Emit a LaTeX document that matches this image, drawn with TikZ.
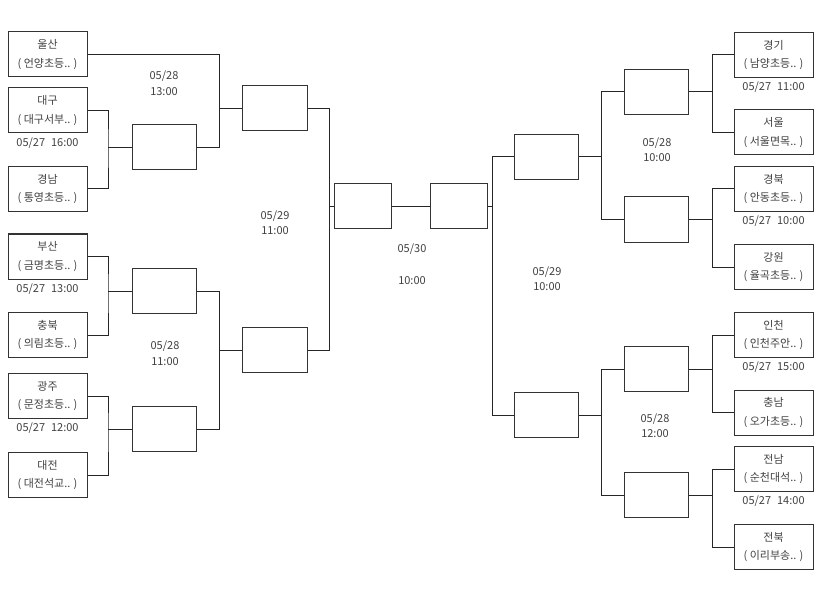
\documentclass[tikz,border=0pt]{standalone}
\usepackage{fontspec}
\setmainfont{Noto Sans CJK KR}
\usetikzlibrary{positioning}

\begin{document}
\begin{tikzpicture}[x=1pt, y=-1pt,
    team/.style={draw=black!80, line width=1pt, minimum width=79pt, minimum height=45pt,
        inner sep=0pt, align=center, text=black!75, font=\fontsize{11}{18.5}\selectfont},
    game/.style={draw=black!80, line width=1pt, minimum width=64pt, minimum height=45pt, inner sep=0pt},
    when/.style={text=black!75, align=center, inner sep=1pt, font=\fontsize{11}{15.5}\selectfont},
    link/.style={draw=black!85, line width=1pt}]
    \useasboundingbox (0,0) rectangle (820,599);

    % Left teams
    \node[team] (ulsan)     at (47.5, 54.5) {울산\\( 언양초등.. )};
    \node[team] (daegu)     at (47.5,110.5) {대구\\( 대구서부.. )};
    \node[team] (gyeongnam) at (47.5,189)   {경남\\( 통영초등.. )};
    \node[team] (busan)     at (47.5,256.5) {부산\\( 금명초등.. )};
    \node[team] (chungbuk)  at (47.5,335)   {충북\\( 의림초등.. )};
    \node[team] (gwangju)   at (47.5,396)   {광주\\( 문정초등.. )};
    \node[team] (daejeon)   at (47.5,475)   {대전\\( 대전석교.. )};

    % Right teams
    \node[team] (gyeonggi)  at (773.5, 55)   {경기\\( 남양초등.. )};
    \node[team] (seoul)     at (773.5,132.5) {서울\\( 서울면목.. )};
    \node[team] (gyeongbuk) at (773.5,189)   {경북\\( 안동초등.. )};
    \node[team] (gangwon)   at (773.5,267)   {강원\\( 율곡초등.. )};
    \node[team] (incheon)   at (773.5,335)   {인천\\( 인천주안.. )};
    \node[team] (chungnam)  at (773.5,412.5) {충남\\( 오가초등.. )};
    \node[team] (jeonnam)   at (773.5,469)   {전남\\( 순천대석.. )};
    \node[team] (jeonbuk)   at (773.5,547)   {전북\\( 이리부송.. )};

    % Match boxes
    \node[game] (L1a) at (164.5,147.5) {};
    \node[game] (L1b) at (164.5,291)   {};
    \node[game] (L1c) at (164.5,429)   {};
    \node[game, minimum width=65pt] (L2a) at (274.5,108.5) {};
    \node[game, minimum width=65pt] (L2b) at (274.5,350)   {};
    \node[game, minimum width=57pt] (FL)  at (362.5,206.5) {};
    \node[game, minimum width=57pt] (FR)  at (458.5,206.5) {};
    \node[game] (R2a) at (546,157) {};
    \node[game] (R2b) at (546,415) {};
    \node[game] (R1a) at (656, 92)   {};
    \node[game] (R1b) at (656,219.5) {};
    \node[game] (R1c) at (656,369)   {};
    \node[game] (R1d) at (656,495)   {};

    % Brackets
    \foreach \g/\a/\b/\s in {L1a/daegu/gyeongnam/24, L1b/busan/chungbuk/24, L1c/gwangju/daejeon/24,
                             L2a/ulsan/L1a/22, L2b/L1b/L1c/22, FL/L2a/L2b/4} {
        \draw[link] (\a.east) -| ([xshift=-\s]\g.west) |- (\b.east);
        \draw[link] ([xshift=-\s]\g.west) -- (\g.west);
    }
    \foreach \g/\a/\b/\s in {R1a/gyeonggi/seoul/24, R1b/gyeongbuk/gangwon/24, R1c/incheon/chungnam/24,
                             R1d/jeonnam/jeonbuk/24, R2a/R1a/R1b/23, R2b/R1c/R1d/23, FR/R2a/R2b/5} {
        \draw[link] (\a.west) -| ([xshift=\s]\g.east) |- (\b.west);
        \draw[link] ([xshift=\s]\g.east) -- (\g.east);
    }
    \draw[link] (FL) -- (FR);

    % Dates
    \node[when, below=3pt of daegu]     (t1) {05/27\hspace{6pt}16:00};
    \node[when, below=3pt of busan]     (t2) {05/27\hspace{6pt}13:00};
    \node[when, below=3pt of gwangju]   (t3) {05/27\hspace{6pt}12:00};
    \node[when, below=3pt of gyeonggi]  (t4) {05/27\hspace{6pt}11:00};
    \node[when, below=3pt of gyeongbuk] (t5) {05/27\hspace{6pt}10:00};
    \node[when, below=3pt of incheon]   (t6) {05/27\hspace{6pt}15:00};
    \node[when, below=3pt of jeonnam]   (t7) {05/27\hspace{6pt}14:00};

    \node[when] (r1) at (164, 83)    {05/28\\13:00};
    \node[when] (r2) at (275,222.5)  {05/29\\11:00};
    \node[when] (r3) at (165,353)    {05/28\\11:00};
    \node[when] (r4) at (412,264)    {05/30\\[16pt]10:00};
    \node[when] (r5) at (657,149.5)  {05/28\\10:00};
    \node[when] (r6) at (547,278.5)  {05/29\\10:00};
    \node[when] (r7) at (655,425.5)  {05/28\\12:00};
\end{tikzpicture}
\end{document}
